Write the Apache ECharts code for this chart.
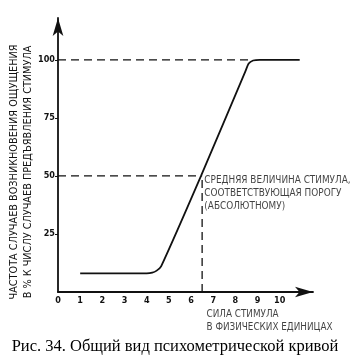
<!DOCTYPE html>
<html><head><meta charset="utf-8">
<script src="https://cdn.jsdelivr.net/npm/echarts@6/dist/echarts.min.js"></script>
<style>html,body{margin:0;padding:0;background:#fff}#c{width:355px;height:357px}</style>
</head><body><div id="c"></div>
<script>
const xTicks=[0,1,2,3,4,5,6,7,8,9,10];
const yTicks=[25,50,75,100];
const curve=[[1,8],[4.0,8],[4.25,8.3],[4.45,9.2],[4.65,11],[6.45,50],[8.45,95],[8.6,98.4],[8.8,99.7],[9.1,100],[10.9,100]];
const line100=[[0,100],[8.75,100]];
const line50=[[0,50],[6.5,50]];
const vline=[[6.5,0],[6.5,50]];
const thresholdNote=['СРЕДНЯЯ ВЕЛИЧИНА СТИМУЛА,','СООТВЕТСТВУЮЩАЯ ПОРОГУ','(АБСОЛЮТНОМУ)'];
const notePoint=[6.6,51];
const xName=['СИЛА СТИМУЛА','В ФИЗИЧЕСКИХ ЕДИНИЦАХ'];
const xNamePoint=[6.7,-7];
const yName=['ЧАСТОТА СЛУЧАЕВ ВОЗНИКНОВЕНИЯ ОЩУЩЕНИЯ','В % К ЧИСЛУ СЛУЧАЕВ ПРЕДЪЯВЛЕНИЯ СТИМУЛА'];
const caption='Рис. 34. Общий вид психометрической кривой';

const SANS="'DejaVu Sans Condensed','Liberation Sans Narrow',sans-serif";
const chart=echarts.init(document.getElementById('c'),null,{renderer:'canvas'});
const dash={color:'#111',width:1.3,type:[8,5]};
chart.setOption({
  animation:false,
  backgroundColor:'#fff',
  grid:{left:58,top:18,width:255,height:274},
  xAxis:{type:'value',min:0,max:11.5,
    axisLine:{lineStyle:{color:'#111',width:1.8},symbol:['none','arrow'],symbolSize:[8,18]},
    axisTick:{show:false},splitLine:{show:false},
    axisLabel:{customValues:xTicks,color:'#111',fontFamily:SANS,fontWeight:'bold',fontSize:9,margin:4}},
  yAxis:{type:'value',min:0,max:118,
    axisLine:{lineStyle:{color:'#111',width:1.8},symbol:['none','arrow'],symbolSize:[8,18]},
    axisTick:{customValues:yTicks,length:3,lineStyle:{color:'#111'}},splitLine:{show:false},
    axisLabel:{customValues:yTicks,color:'#111',fontFamily:SANS,fontWeight:'bold',fontSize:9,margin:3}},
  series:[
    {type:'line',data:line100,symbol:'none',lineStyle:dash},
    {type:'line',data:line50,symbol:'none',lineStyle:dash},
    {type:'line',data:vline,symbol:'none',lineStyle:dash},
    {type:'line',data:curve,symbol:'none',smooth:0.2,lineStyle:{color:'#111',width:1.8}},
    {type:'scatter',data:[notePoint],symbolSize:0,clip:false,silent:true,
      label:{show:true,position:'inside',align:'left',verticalAlign:'top',formatter:thresholdNote.join('\n'),
        color:'#111',fontFamily:SANS,fontSize:9.9,lineHeight:13}},
    {type:'scatter',data:[xNamePoint],symbolSize:0,clip:false,silent:true,
      label:{show:true,position:'inside',align:'left',verticalAlign:'top',formatter:xName.join('\n'),
        color:'#111',fontFamily:SANS,fontSize:9.8,lineHeight:13}}
  ],
  graphic:[
    {type:'text',x:21,y:172,rotation:Math.PI/2,
      style:{text:yName.join('\n'),align:'center',verticalAlign:'middle',fill:'#111',
        font:"10.8px "+SANS,lineHeight:14}},
    {type:'text',x:175,y:347,
      style:{text:caption,align:'center',verticalAlign:'middle',fill:'#000',
        font:"16.5px 'Liberation Serif','DejaVu Serif',serif"}}
  ]
});
</script></body></html>
